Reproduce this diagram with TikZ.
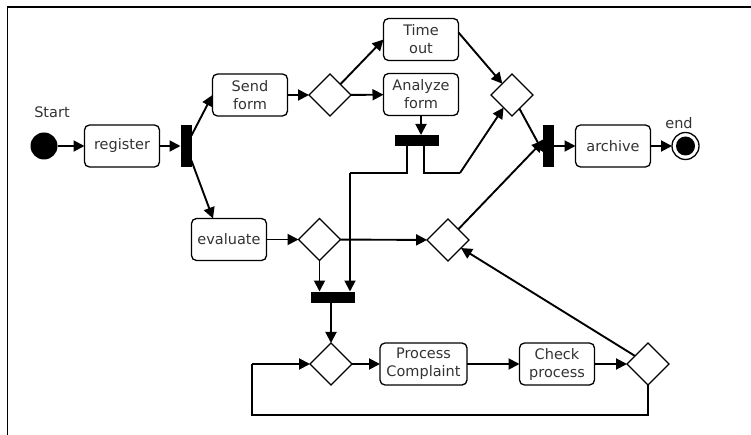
\documentclass[tikz,border=0pt]{standalone}
\usepackage{fontspec}
\setmainfont{DejaVu Sans}
\usetikzlibrary{shapes.geometric,arrows.meta}

\begin{document}
\begin{tikzpicture}[y=1pt, x=1pt, yscale=-1, inner sep=0pt, outer sep=0pt,
  txt/.style={font=\fontsize{14.5}{18}\selectfont, text=black!80, align=center},
  act/.style={txt, draw=black, line width=1.3pt, rounded corners=5pt,
    minimum width=75pt, minimum height=42pt, fill=white},
  dec/.style={diamond, draw=black, line width=1.3pt, minimum width=42pt,
    minimum height=42pt, fill=white},
  vbar/.style={fill=black, minimum width=11pt, minimum height=42pt},
  hbar/.style={fill=black, minimum width=44pt, minimum height=11pt},
  flow/.style={draw=black, line width=1.9pt, -{Triangle[length=11pt,width=11pt]}},
  wire/.style={draw=black, line width=1.3pt}]
\useasboundingbox (0,0) rectangle (751,435);
\draw[line width=1.4pt] (7.5,435) -- (7.5,7) -- (751,7);

% top row
\node[circle, fill=black, minimum size=27pt] (start) at (44,146) {};
\node[txt] (startlbl) at (52,112) {Start};
\node[act] (register) at (122,146) {register};
\node[vbar] (forkA) at (186,146) {};
\node[act] (send) at (250,95) {Send\\form};
\node[dec] (dSend) at (330,95) {};
\node[act] (timeout) at (421,39.5) {Time\\out};
\node[act] (analyze) at (421,94.5) {Analyze\\form};
\node[hbar] (joinA) at (417,140.5) {};
\node[dec] (dTime) at (512,95) {};
\node[vbar] (forkB) at (548.5,146) {};
\node[act] (archive) at (613,146) {archive};
\node[circle, draw=black, line width=1.3pt, minimum size=27pt] (end) at (685.5,146) {};
\node[circle, fill=black, minimum size=19pt] (endin) at (end) {};
\node[txt] (endlbl) at (679,123) {end};

% middle row
\node[act] (evaluate) at (229,239.5) {evaluate};
\node[dec] (dEval) at (319.5,239.5) {};
\node[dec] (dCheck) at (448,240) {};
\node[hbar] (joinB) at (333,297) {};

% bottom row
\node[dec] (dLoop) at (331,364) {};
\node[act, minimum width=87pt] (process) at (423.5,364) {Process\\Complaint};
\node[act] (check) at (557,364) {Check\\process};
\node[dec] (dDone) at (648,364) {};

\coordinate (leftC) at (350,173);
\coordinate (rightC) at (460,173);
\coordinate (loopB) at (252,415);

% connectors
\draw[flow] (start) -- (register);
\draw[flow] (register) -- (forkA);
\draw[flow] (forkA) -- (send.west);
\draw[flow] (forkA) -- ([xshift=-16pt]evaluate.north);
\draw[flow] (send) -- (dSend);
\draw[flow] (dSend) -- (timeout.west);
\draw[flow] (dSend) -- (analyze);
\draw[flow] ([yshift=-7pt]timeout.east) -- (dTime);
\draw[flow] (analyze.south) -- (analyze.south |- joinA.north);
\draw[wire] ([xshift=-10pt]joinA.south) |- (leftC);
\draw[flow] (leftC) -- (leftC |- joinB.north);
\draw[wire] ([xshift=7pt]joinA.south) |- (rightC);
\draw[flow] (rightC) -- (dTime);
\draw[flow] (dTime) -- ([yshift=6pt]forkB.west);
\draw[flow] (dCheck) -- ([yshift=-5pt]forkB.west);
\draw[flow] (forkB) -- (archive);
\draw[flow] (archive) -- (end);
\draw[flow] (evaluate) -- (dEval);
\draw[flow] (dEval) -- (dCheck);
\draw[flow] (dEval.south) -- (dEval.south |- joinB.north);
\draw[flow] (joinB.south -| dLoop.north) -- (dLoop);
\draw[flow] (dLoop) -- (process);
\draw[flow] (process) -- (check);
\draw[flow] (check) -- (dDone);
\draw[flow] (dDone) -- (dCheck);
\draw[wire] (dDone.south) |- (loopB) -- (loopB |- dLoop.west);
\draw[flow] (loopB |- dLoop.west) -- (dLoop);

\end{tikzpicture}
\end{document}
